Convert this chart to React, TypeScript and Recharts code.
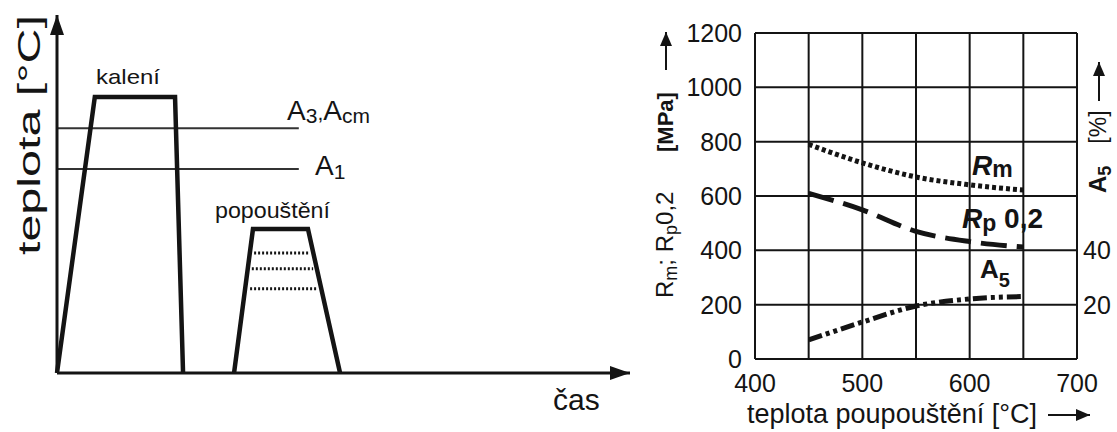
import { LineChart, Line, XAxis, YAxis, CartesianGrid } from "recharts";

const FONT = "'Liberation Sans', Arial, Helvetica, sans-serif";
const INK = "#141414";

// left panel: heat-treatment schedule, schematic units (time 0-100, temperature 0-100)
const quenchTime = [0, 6.6, 20.6, 22.0];
const quenchTemp = [0, 77.1, 77.1, 0];
const temperTime = [30.9, 34.2, 43.8, 49.4];
const temperTemp = [0, 40.2, 40.2, 0];
const criticalEnd = 42.2;
const a3Temp = 68.4;
const a1Temp = 57.0;
const holdTemps = [33.5, 29.1, 23.5];
const holdStart = [34.4, 34.0, 33.7];
const holdEnd = [44.0, 44.7, 45.4];

// right panel: properties vs tempering temperature
const temperingTemps = [450, 500, 550, 600, 650];
const rmValues = [790, 722, 670, 641, 622];
const rpValues = [610, 549, 470, 432, 412];
const a5Values = [7, 13.6, 19.5, 22.1, 23.0];
const tempTicks = [400, 450, 500, 550, 600, 650, 700];
const mpaTicks = [0, 200, 400, 600, 800, 1000, 1200];
const a5Ticks = [20, 40];

const toPts = (xs: number[], ys: number[]) => xs.map((t, i) => ({ t, v: ys[i] }));
const quench = toPts(quenchTime, quenchTemp);
const temper = toPts(temperTime, temperTemp);
const a3Line = toPts([0, criticalEnd], [a3Temp, a3Temp]);
const a1Line = toPts([0, criticalEnd], [a1Temp, a1Temp]);
const holdLines = holdTemps.map((h, i) => toPts([holdStart[i], holdEnd[i]], [h, h]));

const propsData = temperingTemps.map((t, i) => ({
  t,
  rm: rmValues[i],
  rp: rpValues[i],
  a5: a5Values[i],
}));

function ScheduleChart() {
  return (
    <LineChart width={640} height={432} margin={{ top: 15, right: 10, bottom: 58, left: 56 }}>
      <defs>
        <marker
          id="arrowHead"
          viewBox="0 0 20 14"
          refX="20"
          refY="7"
          markerWidth="20"
          markerHeight="14"
          markerUnits="userSpaceOnUse"
          orient="auto-start-reverse"
        >
          <path d="M0,0 L20,7 L0,14 z" fill={INK} />
        </marker>
      </defs>
      <XAxis
        type="number"
        dataKey="t"
        domain={[0, 100]}
        height={1}
        tick={false}
        tickLine={false}
        axisLine={{ stroke: INK, strokeWidth: 3, markerEnd: "url(#arrowHead)" }}
      />
      <YAxis
        type="number"
        domain={[0, 100]}
        width={1}
        tick={false}
        tickLine={false}
        axisLine={{ stroke: INK, strokeWidth: 3, markerStart: "url(#arrowHead)" }}
      />
      <Line data={a3Line} dataKey="v" type="linear" stroke="#333" strokeWidth={2} dot={false} isAnimationActive={false} />
      <Line data={a1Line} dataKey="v" type="linear" stroke="#333" strokeWidth={2} dot={false} isAnimationActive={false} />
      {holdLines.map((d, i) => (
        <Line
          key={i}
          data={d}
          dataKey="v"
          type="linear"
          stroke={INK}
          strokeWidth={3}
          strokeDasharray="2 2"
          dot={false}
          isAnimationActive={false}
        />
      ))}
      <Line data={quench} dataKey="v" type="linear" stroke={INK} strokeWidth={4.5} dot={false} isAnimationActive={false} />
      <Line data={temper} dataKey="v" type="linear" stroke={INK} strokeWidth={4.5} dot={false} isAnimationActive={false} />

      <text x={40} y={255} transform="rotate(-90 40 255)" fontSize={31} fontFamily={FONT} fill={INK}
        textLength={240} lengthAdjust="spacingAndGlyphs">teplota [°C]</text>
      <text x={96} y={84} fontSize={21} fontFamily={FONT} fill={INK} textLength={64} lengthAdjust="spacingAndGlyphs">kalení</text>
      <text x={287} y={120} fontSize={28} fontFamily={FONT} fill={INK}>
        A<tspan fontSize={21} dy={3}>3</tspan><tspan fontSize={21} dy={-3}>,</tspan>A<tspan fontSize={21} dy={3}>cm</tspan>
      </text>
      <text x={315} y={175} fontSize={28} fontFamily={FONT} fill={INK}>
        A<tspan fontSize={21} dy={4}>1</tspan>
      </text>
      <text x={215} y={218} fontSize={22} fontFamily={FONT} fill={INK} textLength={115} lengthAdjust="spacingAndGlyphs">popouštění</text>
      <text x={553} y={410} fontSize={30} fontFamily={FONT} fill={INK}>čas</text>
    </LineChart>
  );
}

function PropertiesChart() {
  const tick = { fontSize: 25, fill: INK, fontFamily: FONT };
  return (
    <LineChart width={477} height={432} data={propsData} margin={{ top: 33, right: 0, bottom: 0, left: 0 }}>
      <defs>
        <marker
          id="labelArrow"
          viewBox="0 0 14 12"
          refX="14"
          refY="6"
          markerWidth="14"
          markerHeight="12"
          markerUnits="userSpaceOnUse"
          orient="auto"
        >
          <path d="M0,0 L14,6 L0,12 z" fill={INK} />
        </marker>
      </defs>
      <CartesianGrid stroke={INK} strokeWidth={2} />
      <XAxis
        type="number"
        dataKey="t"
        domain={[400, 700]}
        ticks={tempTicks}
        tickFormatter={(v: number) => (v % 100 === 0 ? String(v) : "")}
        height={73}
        tickLine={false}
        tickSize={0}
        tickMargin={15}
        tick={tick}
        axisLine={{ stroke: INK, strokeWidth: 2 }}
        interval={0}
      />
      <YAxis
        type="number"
        domain={[0, 1200]}
        ticks={mpaTicks}
        width={115}
        tickLine={false}
        tickSize={0}
        tickMargin={13}
        tick={tick}
        axisLine={{ stroke: INK, strokeWidth: 2 }}
        interval={0}
      />
      <YAxis
        yAxisId="pct"
        orientation="right"
        type="number"
        domain={[0, 120]}
        ticks={a5Ticks}
        width={40}
        tickLine={false}
        tickSize={0}
        tickMargin={6}
        tick={tick}
        axisLine={{ stroke: INK, strokeWidth: 2 }}
        interval={0}
      />
      <Line dataKey="rm" type="monotone" stroke={INK} strokeWidth={5} strokeDasharray="4 3" dot={false} isAnimationActive={false} />
      <Line dataKey="rp" type="monotone" stroke={INK} strokeWidth={5} strokeDasharray="26 10" dot={false} isAnimationActive={false} />
      <Line yAxisId="pct" dataKey="a5" type="monotone" stroke={INK} strokeWidth={5} strokeDasharray="14 4 4 4 4 4" dot={false} isAnimationActive={false} />

      <text x={332} y={175} fontFamily={FONT} fill={INK} fontWeight="bold">
        <tspan fontSize={28} fontStyle="italic">R</tspan><tspan fontSize={23} dy={2}>m</tspan>
      </text>
      <text x={322} y={228} fontFamily={FONT} fill={INK} fontWeight="bold">
        <tspan fontSize={28} fontStyle="italic">R</tspan><tspan fontSize={23} dy={3}>p</tspan><tspan fontSize={28} dy={-3}> 0,2</tspan>
      </text>
      <text x={340} y={278} fontFamily={FONT} fill={INK} fontWeight="bold">
        <tspan fontSize={26}>A</tspan><tspan fontSize={20} dy={9}>5</tspan>
      </text>

      <text x={33} y={298} transform="rotate(-90 33 298)" fontFamily={FONT} fill={INK} fontSize={24}>
        R<tspan fontSize={18} dy={4}>m</tspan><tspan dy={-4}>; R</tspan><tspan fontSize={18} dy={4}>p</tspan><tspan dy={-4}>0,2</tspan>
      </text>
      <text x={33} y={122} transform="rotate(-90 33 122)" textAnchor="middle" fontFamily={FONT} fill={INK} fontSize={22} fontWeight="bold">[MPa]</text>
      <line x1={26} y1={70} x2={26} y2={32} stroke={INK} strokeWidth={2} markerEnd="url(#labelArrow)" />

      <text x={466} y={193} transform="rotate(-90 466 193)" fontFamily={FONT} fill={INK} fontSize={24} fontWeight="bold">
        A<tspan fontSize={18} dy={5}>5</tspan>
      </text>
      <text x={466} y={127} transform="rotate(-90 466 127)" textAnchor="middle" fontFamily={FONT} fill={INK} fontSize={23}>[%]</text>
      <line x1={459} y1={101} x2={459} y2={62} stroke={INK} strokeWidth={2} markerEnd="url(#labelArrow)" />

      <text x={107} y={423} fontFamily={FONT} fill={INK} fontSize={27}>teplota poupouštění [°C]</text>
      <line x1={408} y1={415} x2={450} y2={415} stroke={INK} strokeWidth={2} markerEnd="url(#labelArrow)" />
    </LineChart>
  );
}

export default function App() {
  return (
    <div style={{ position: "absolute", left: 0, top: 0, width: 1117, height: 432, background: "#fff", fontFamily: FONT }}>
      <div style={{ position: "absolute", left: 0, top: 0 }}>
        <ScheduleChart />
      </div>
      <div style={{ position: "absolute", left: 640, top: 0 }}>
        <PropertiesChart />
      </div>
    </div>
  );
}
